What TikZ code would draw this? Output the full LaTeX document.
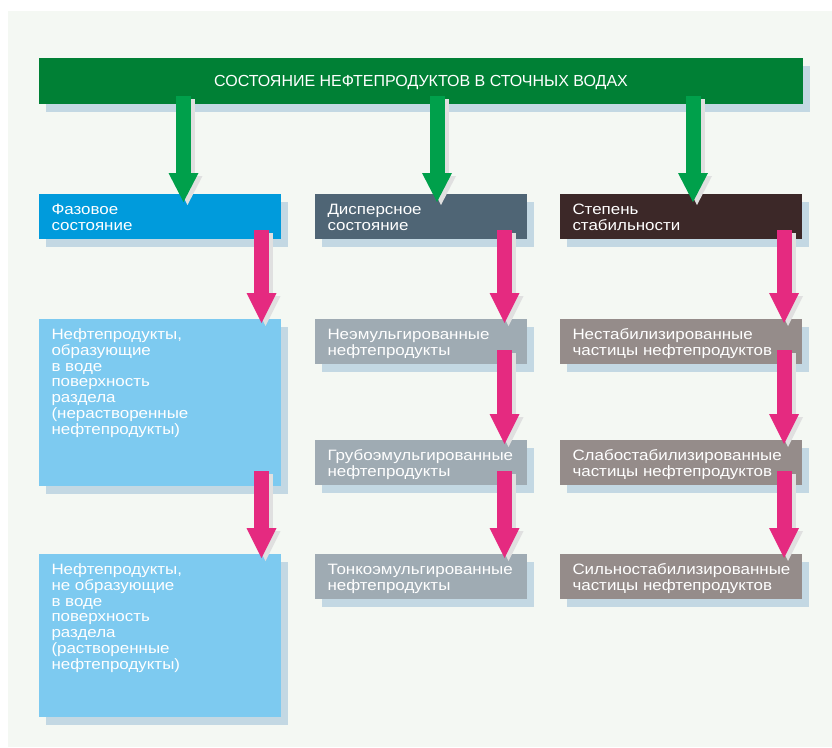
\documentclass[tikz,border=0pt]{standalone}
\usepackage{fontspec}
\setmainfont{Liberation Sans}
\newfontfamily\boxfont{Liberation Sans}[FakeStretch=1.13]
\usetikzlibrary{calc,shadows,arrows.meta}
\definecolor{panelc}{HTML}{F4F8F3}
\definecolor{topgreen}{HTML}{008035}
\definecolor{arrgreen}{HTML}{00A04B}
\definecolor{fazblue}{HTML}{009BDC}
\definecolor{lightbluec}{HTML}{7DCAF0}
\definecolor{slatec}{HTML}{4F6575}
\definecolor{slatelight}{HTML}{9FABB3}
\definecolor{darkbrownc}{HTML}{3C2828}
\definecolor{taupec}{HTML}{958C8A}
\definecolor{pinkc}{HTML}{E52A80}
\definecolor{shadowblue}{HTML}{C3D8E3}
\definecolor{shadowgray}{HTML}{E0E0E0}
\newcommand{\bxt}[3]{\hspace*{12.5pt}\parbox[c][\dimexpr#2pt-17pt\relax][t]{\dimexpr#1pt-12.5pt\relax}{\raggedright\hyphenpenalty=10000 \exhyphenpenalty=10000 \rule{0pt}{12pt}#3}}
\tikzset{
  boxshadow/.style={drop shadow={shadow xshift=7pt,shadow yshift=-7.5pt,fill=shadowblue,opacity=1}},
  topbar/.style={fill=topgreen,minimum width=764pt,minimum height=46pt,inner sep=0pt,outer sep=0pt,
    text=white,font=\fontsize{16}{18}\selectfont,text depth=0pt,boxshadow},
  infobox/.style={inner xsep=0pt,inner ysep=8.5pt,outer sep=0pt,anchor=north west,text=white,
    font=\boxfont\fontsize{15}{15.8}\selectfont,boxshadow},
  greenarr/.style={draw=arrgreen,line width=15pt,line cap=butt,-{Triangle[width=30pt,length=29pt,line width=0pt]}},
  pinkarr/.style={draw=pinkc,line width=15pt,line cap=butt,-{Triangle[width=30pt,length=30pt,line width=0pt]}},
  greenshadow/.style={greenarr,draw=shadowgray,transform canvas={xshift=4pt,yshift=-3pt}},
  pinkshadow/.style={pinkarr,draw=shadowgray,transform canvas={xshift=4pt,yshift=-3pt}}
}
\newcommand{\garrow}[2]{\draw[greenshadow] #1 -- #2; \draw[greenarr] #1 -- #2;}
\newcommand{\parrow}[2]{\draw[pinkshadow] #1 -- #2; \draw[pinkarr] #1 -- #2;}
\begin{document}
\begin{tikzpicture}[x=1pt,y=-1pt]
\useasboundingbox (0,0) rectangle (832,747);
\fill[white] (0,0) rectangle (832,747);
\fill[panelc] (8,11) rectangle (832,747);

\node[topbar] (top) at (421,81) {СОСТОЯНИЕ НЕФТЕПРОДУКТОВ В СТОЧНЫХ ВОДАХ};

\node[infobox,fill=fazblue] (faz) at (39,194) {\bxt{242}{45}{Фазовое\\состояние}};
\node[infobox,fill=slatec] (disp) at (315,194) {\bxt{212}{45}{Дисперсное\\состояние}};
\node[infobox,fill=darkbrownc] (step) at (560,194) {\bxt{242}{45}{Степень\\стабильности}};

\node[infobox,fill=lightbluec] (big1) at (39,319) {\bxt{242}{167}{Нефтепродукты,\\образующие\\в воде\\поверхность\\раздела\\(нерастворенные\\нефтепродукты)}};
\node[infobox,fill=slatelight] (neem) at (315,319) {\bxt{212}{45}{Неэмульгированные\\нефтепродукты}};
\node[infobox,fill=taupec] (nestab) at (560,319) {\bxt{242}{45}{Нестабилизированные\\частицы нефтепродуктов}};

\node[infobox,fill=slatelight] (grubo) at (315,440) {\bxt{212}{45}{Грубоэмульгированные\\нефтепродукты}};
\node[infobox,fill=taupec] (slabo) at (560,440) {\bxt{242}{45}{Слабостабилизированные\\частицы нефтепродуктов}};

\node[infobox,fill=lightbluec] (big2) at (39,554) {\bxt{242}{163}{Нефтепродукты,\\не образующие\\в воде\\поверхность\\раздела\\(растворенные\\нефтепродукты)}};
\node[infobox,fill=slatelight] (tonko) at (315,554) {\bxt{212}{45}{Тонкоэмульгированные\\нефтепродукты}};
\node[infobox,fill=taupec] (silno) at (560,554) {\bxt{242}{45}{Сильностабилизированные\\частицы нефтепродуктов}};

% green arrows
\garrow{($(top.south west)+(144.5,-8)$)}{($(faz.north west)+(144.5,8)$)}
\garrow{($(top.south west)+(398,-8)$)}{($(disp.north west)+(122,8)$)}
\garrow{($(top.south west)+(654,-8)$)}{($(step.north west)+(133,8)$)}

% pink arrows
\parrow{($(faz.south west)+(222.5,-9)$)}{($(big1.north west)+(222.5,4)$)}
\parrow{($(big1.south west)+(222.5,-15)$)}{($(big2.north west)+(222.5,4)$)}

\parrow{($(disp.south west)+(189.5,-9)$)}{($(neem.north west)+(189.5,4)$)}
\parrow{($(neem.south west)+(189.5,-14)$)}{($(grubo.north west)+(189.5,4)$)}
\parrow{($(grubo.south west)+(189.5,-14)$)}{($(tonko.north west)+(189.5,4)$)}

\parrow{($(step.south west)+(224,-9)$)}{($(nestab.north west)+(224,4)$)}
\parrow{($(nestab.south west)+(224,-14)$)}{($(slabo.north west)+(224,4)$)}
\parrow{($(slabo.south west)+(224,-14)$)}{($(silno.north west)+(224,4)$)}
\end{tikzpicture}
\end{document}
